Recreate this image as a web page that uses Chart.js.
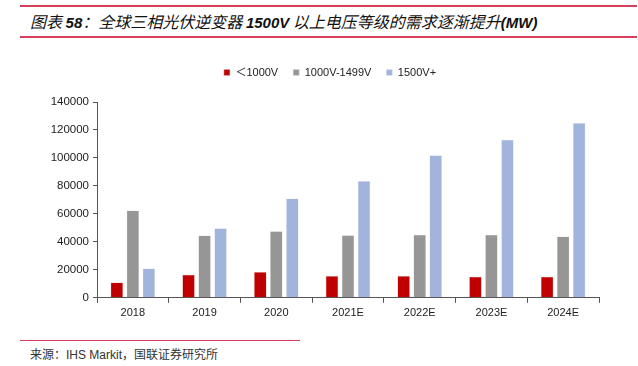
<!DOCTYPE html>
<html lang="zh">
<head>
    <meta charset="UTF-8">
    <title>全球三相光伏逆变器 1500V 以上电压等级的需求</title>
    <script src="https://cdn.jsdelivr.net/npm/chart.js"></script>
    <style>
        html, body {
            margin: 0;
            padding: 0;
            background: white;
        }
        body {
            width: 638px;
            height: 366px;
            position: relative;
            overflow: hidden;
            font-family: "Liberation Sans", Arial, sans-serif;
        }
        .header {
            position: absolute;
            left: 20px;
            top: 5px;
            width: 617px;
            height: 29px;
            border-top: 2px solid #d6405a;
            border-bottom: 2px solid #d6405a;
        }
        .title {
            position: absolute;
            left: 10px;
            top: 4px;
            font-family: "Noto Sans CJK SC", sans-serif;
            font-size: 16px;
            line-height: 20px;
            font-style: italic;
            color: #111;
            white-space: nowrap;
        }
        .title b {
            font-family: "Liberation Sans", Arial, sans-serif;
            font-size: 15px;
            font-weight: bold;
        }
        .footer-rule {
            position: absolute;
            left: 20px;
            top: 340px;
            width: 280px;
            height: 1px;
            background: #d6405a;
        }
        .source {
            position: absolute;
            left: 30px;
            top: 345px;
            font-family: "Liberation Sans", "Noto Sans CJK SC", sans-serif;
            font-size: 12px;
            color: #333;
            white-space: nowrap;
        }
        .chart-box {
            position: absolute;
            left: 0;
            top: 52px;
            width: 638px;
            height: 272px;
        }
    </style>
</head>
<body>
    <div class="header">
        <div class="title">图表 <b>58</b>：全球三相光伏逆变器 <b>1500V</b> 以上电压等级的需求逐渐提升<b>(MW)</b></div>
    </div>

    <div class="chart-box">
        <canvas id="demandChart"></canvas>
    </div>

    <div class="footer-rule"></div>
    <div class="source">来源：IHS Markit，国联证券研究所</div>

    <script>
        // categories and series (MW)
        const years = ['2018', '2019', '2020', '2021E', '2022E', '2023E', '2024E'];
        const below1000 = [11000, 16500, 18500, 15500, 15500, 15000, 15000];
        const mid1000to1499 = [62500, 44500, 47500, 44800, 45000, 45000, 43800];
        const above1500 = [21000, 49800, 71000, 83500, 102000, 113000, 125000];
        const yTicks = [0, 20000, 40000, 60000, 80000, 100000, 120000, 140000];

        const axisColor = '#555';

        // leave more room under the legend and nudge it right a little
        const legendTweak = {
            id: 'legendTweak',
            beforeInit(chart) {
                const origFit = chart.legend.fit;
                chart.legend.fit = function () {
                    origFit.bind(chart.legend)();
                    this.height += 14;
                };
            },
            afterLayout(chart) {
                chart.legend.left += 5;
                chart.legend.right += 5;
            }
        };

        new Chart(document.getElementById('demandChart'), {
            type: 'bar',
            plugins: [legendTweak],
            data: {
                labels: years,
                datasets: [
                    { label: '＜1000V', data: below1000, backgroundColor: '#c00000', borderColor: '#e8b0b0', borderWidth: 0.5 },
                    { label: '1000V-1499V', data: mid1000to1499, backgroundColor: '#969696', borderColor: '#d8d8d8', borderWidth: 0.5 },
                    { label: '1500V+', data: above1500, backgroundColor: '#a2b4dc', borderColor: '#e0e6f4', borderWidth: 0.5 }
                ]
            },
            options: {
                responsive: true,
                maintainAspectRatio: false,
                animation: false,
                categoryPercentage: 0.67,
                barPercentage: 0.78,
                layout: { padding: { left: 51, right: 39, top: 0, bottom: 0 } },
                plugins: {
                    tooltip: { enabled: false },
                    legend: {
                        position: 'top',
                        labels: {
                            boxWidth: 6,
                            boxHeight: 6,
                            padding: 15,
                            color: '#222',
                            font: { family: '"Liberation Sans", "Noto Sans CJK SC", sans-serif', size: 11 }
                        }
                    }
                },
                scales: {
                    x: {
                        grid: {
                            drawOnChartArea: false,
                            color: axisColor,
                            tickLength: 5
                        },
                        border: { color: axisColor, width: 1 },
                        ticks: {
                            color: '#222',
                            padding: 4,
                            font: { family: '"Liberation Sans", Arial, sans-serif', size: 11 }
                        }
                    },
                    y: {
                        min: 0,
                        max: 140000,
                        afterBuildTicks: axis => { axis.ticks = yTicks.map(v => ({ value: v })); },
                        afterFit: axis => { axis.width = 46; },
                        grid: {
                            drawOnChartArea: false,
                            color: axisColor,
                            tickLength: 4
                        },
                        border: { color: axisColor, width: 1 },
                        ticks: {
                            color: '#222',
                            padding: 4,
                            font: { family: '"Liberation Sans", Arial, sans-serif', size: 11.5 },
                            callback: v => String(v)
                        }
                    }
                }
            }
        });
    </script>
</body>
</html>
